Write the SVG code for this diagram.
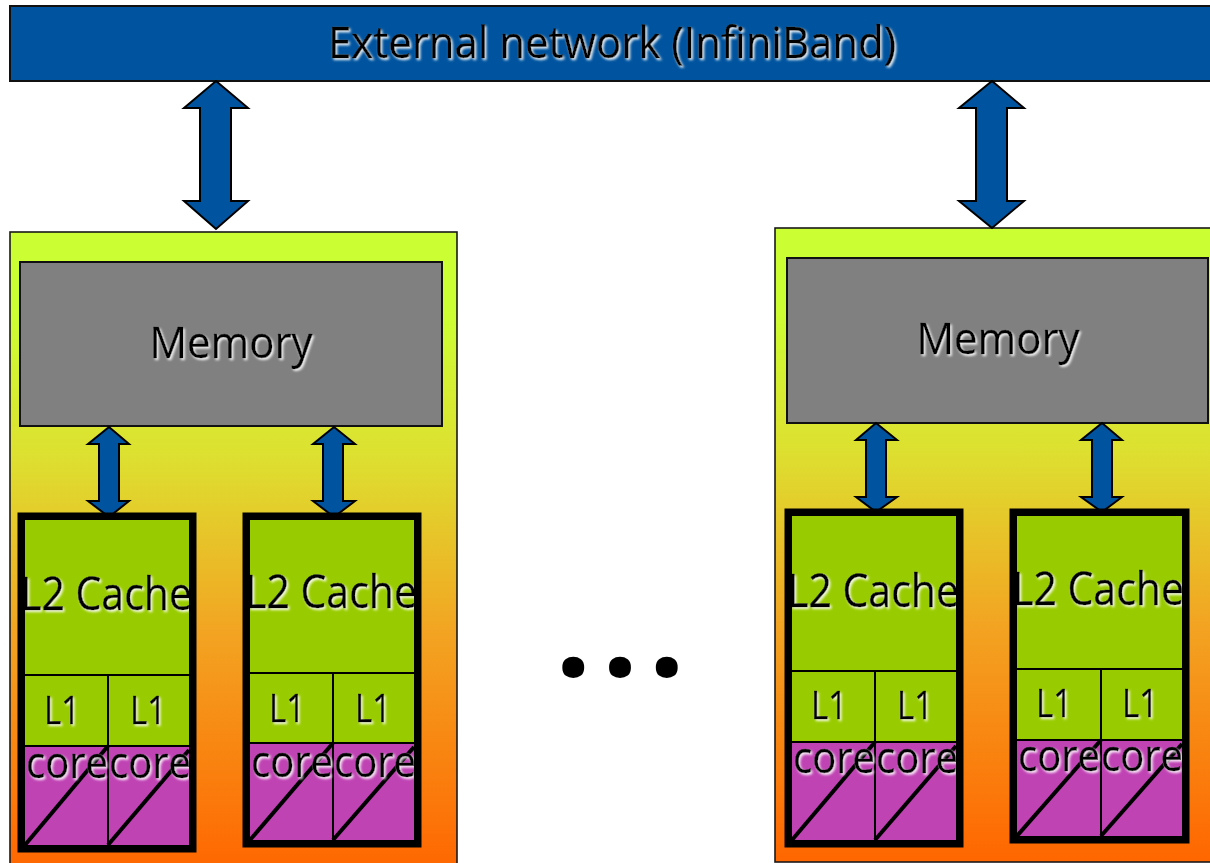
<svg xmlns="http://www.w3.org/2000/svg" width="1210" height="863" viewBox="0 0 1210 863">
<style>
.t{font-family:"Open Sans","Liberation Sans",sans-serif;fill:#000;stroke:#000;stroke-width:0.5;text-anchor:middle;filter:url(#sh)}
.big{font-size:44px}
.l2{font-size:46px}
.l1{font-size:38px}
.co{font-size:44px}
.arr{fill:#00549f;stroke:#000;stroke-width:2;stroke-linejoin:miter}
.node{stroke:#1a1a1a;stroke-width:1.6}
.g{fill:#99cc00}
.m{fill:#c043b4}
.ln{stroke:#000;stroke-width:2;fill:none}
.dg{stroke:#000;stroke-width:4;fill:none}
.ob{fill:none;stroke:#000;stroke-width:7.5}
</style>
<defs>
<linearGradient id="bg" x1="0" y1="0" x2="0" y2="1">
<stop offset="0" stop-color="#ccff33"/>
<stop offset="0.12" stop-color="#ccff33"/>
<stop offset="0.35" stop-color="#dde030"/>
<stop offset="0.62" stop-color="#f2a522"/>
<stop offset="1" stop-color="#ff6600"/>
</linearGradient>
<filter id="sh" x="-10%" y="-20%" width="120%" height="140%">
<feDropShadow dx="1.6" dy="1.8" stdDeviation="0.9" flood-color="#ffffff" flood-opacity="0.9"/>
</filter>
</defs>
<rect width="1210" height="863" fill="#fff"/>

<g id="network">
<rect x="10" y="6" width="1210" height="75" fill="#00549f" stroke="#111" stroke-width="2"/>
<text class="t big" x="612" y="58" textLength="568" lengthAdjust="spacingAndGlyphs">External network (InfiniBand)</text>
</g>

<g id="node-left">
<rect class="node" x="10" y="232" width="447" height="640" fill="url(#bg)"/>
</g>
<g id="node-right">
<rect class="node" x="775" y="228" width="445" height="634" fill="url(#bg)"/>
</g>

<g id="memory-left">
<rect x="20" y="262" width="422" height="164" fill="#808080" stroke="#111" stroke-width="2"/>
<text class="t big" x="231" y="358" textLength="163" lengthAdjust="spacingAndGlyphs">Memory</text>
</g>
<g id="memory-right">
<rect x="787" y="258" width="421" height="165" fill="#808080" stroke="#111" stroke-width="2"/>
<text class="t big" x="998" y="354" textLength="163" lengthAdjust="spacingAndGlyphs">Memory</text>
</g>

<g id="connectors">
<polygon class="arr" points="216,81 248,108 231,108 231,201 248,201 216,229 184,201 200,201 200,108 184,108"/>
<polygon class="arr" points="992,81 1024,108 1007,108 1007,201 1024,201 992,228 959,201 976,201 976,108 959,108"/>
<polygon class="arr" points="109,427 129,444 119,444 119,501 129,501 109,517 88,501 99,501 99,444 88,444"/>
<polygon class="arr" points="334,427 355,444 343,444 343,501 355,501 334,517 313,501 323,501 323,444 313,444"/>
<polygon class="arr" points="876,423 897,440 886,440 886,497 897,497 876,512 856,497 866,497 866,440 856,440"/>
<polygon class="arr" points="1102,423 1122,440 1112,440 1112,497 1122,497 1102,512 1081,497 1092,497 1092,440 1081,440"/>
</g>

<g id="chip-1">
<rect class="g" x="25" y="520" width="164" height="155"/>
<rect class="g" x="25" y="675" width="164" height="71"/>
<rect class="m" x="25" y="746" width="164" height="99"/>
<line class="ln" x1="25" y1="675" x2="189" y2="675"/>
<line class="ln" x1="25" y1="746" x2="189" y2="746"/>
<line class="ln" x1="108" y1="675" x2="108" y2="845"/>
<line class="dg" x1="25" y1="845" x2="108" y2="746"/>
<line class="dg" x1="108" y1="845" x2="189" y2="750"/>
<text class="t l2" x="106" y="610" textLength="172" lengthAdjust="spacingAndGlyphs">L2 Cache</text>
<text class="t l1" x="62" y="724" textLength="36" lengthAdjust="spacingAndGlyphs">L1</text>
<text class="t l1" x="148" y="724" textLength="36" lengthAdjust="spacingAndGlyphs">L1</text>
<text class="t co" x="67" y="778" textLength="82" lengthAdjust="spacingAndGlyphs">core</text>
<text class="t co" x="150" y="778" textLength="82" lengthAdjust="spacingAndGlyphs">core</text>
<rect class="ob" x="21.25" y="516.25" width="171.5" height="332.5"/>
</g>

<g id="chip-2">
<rect class="g" x="250" y="520" width="164" height="153"/>
<rect class="g" x="250" y="673" width="164" height="70"/>
<rect class="m" x="250" y="743" width="164" height="97"/>
<line class="ln" x1="250" y1="673" x2="414" y2="673"/>
<line class="ln" x1="250" y1="743" x2="414" y2="743"/>
<line class="ln" x1="333" y1="673" x2="333" y2="840"/>
<line class="dg" x1="250" y1="840" x2="333" y2="743"/>
<line class="dg" x1="333" y1="840" x2="414" y2="747"/>
<text class="t l2" x="331" y="608" textLength="172" lengthAdjust="spacingAndGlyphs">L2 Cache</text>
<text class="t l1" x="287" y="722" textLength="36" lengthAdjust="spacingAndGlyphs">L1</text>
<text class="t l1" x="373" y="722" textLength="36" lengthAdjust="spacingAndGlyphs">L1</text>
<text class="t co" x="292" y="777" textLength="82" lengthAdjust="spacingAndGlyphs">core</text>
<text class="t co" x="375" y="777" textLength="82" lengthAdjust="spacingAndGlyphs">core</text>
<rect class="ob" x="246.25" y="516.25" width="171.5" height="327.5"/>
</g>

<g id="chip-3">
<rect class="g" x="792" y="516" width="164" height="155"/>
<rect class="g" x="792" y="671" width="164" height="71"/>
<rect class="m" x="792" y="742" width="164" height="98"/>
<line class="ln" x1="792" y1="671" x2="956" y2="671"/>
<line class="ln" x1="792" y1="742" x2="956" y2="742"/>
<line class="ln" x1="875" y1="671" x2="875" y2="840"/>
<line class="dg" x1="792" y1="840" x2="875" y2="742"/>
<line class="dg" x1="875" y1="840" x2="956" y2="746"/>
<text class="t l2" x="873" y="607" textLength="172" lengthAdjust="spacingAndGlyphs">L2 Cache</text>
<text class="t l1" x="829" y="719" textLength="36" lengthAdjust="spacingAndGlyphs">L1</text>
<text class="t l1" x="915" y="719" textLength="36" lengthAdjust="spacingAndGlyphs">L1</text>
<text class="t co" x="834" y="773" textLength="82" lengthAdjust="spacingAndGlyphs">core</text>
<text class="t co" x="917" y="773" textLength="82" lengthAdjust="spacingAndGlyphs">core</text>
<rect class="ob" x="788.25" y="512.25" width="171.5" height="331.5"/>
</g>

<g id="chip-4">
<rect class="g" x="1017" y="516" width="165" height="153"/>
<rect class="g" x="1017" y="669" width="165" height="71"/>
<rect class="m" x="1017" y="740" width="165" height="96"/>
<line class="ln" x1="1017" y1="669" x2="1182" y2="669"/>
<line class="ln" x1="1017" y1="740" x2="1182" y2="740"/>
<line class="ln" x1="1101" y1="669" x2="1101" y2="836"/>
<line class="dg" x1="1017" y1="836" x2="1101" y2="740"/>
<line class="dg" x1="1101" y1="836" x2="1182" y2="744"/>
<text class="t l2" x="1098" y="605" textLength="172" lengthAdjust="spacingAndGlyphs">L2 Cache</text>
<text class="t l1" x="1054" y="717" textLength="36" lengthAdjust="spacingAndGlyphs">L1</text>
<text class="t l1" x="1140" y="717" textLength="36" lengthAdjust="spacingAndGlyphs">L1</text>
<text class="t co" x="1059" y="771" textLength="82" lengthAdjust="spacingAndGlyphs">core</text>
<text class="t co" x="1142" y="771" textLength="82" lengthAdjust="spacingAndGlyphs">core</text>
<rect class="ob" x="1013.25" y="512.25" width="172.5" height="327.5"/>
</g>

<g id="ellipsis">
<text x="620" y="676" font-family="Open Sans, Liberation Sans, sans-serif" font-weight="bold" font-size="128" text-anchor="middle" textLength="130" lengthAdjust="spacing" fill="#000">...</text>
</g>
</svg>
